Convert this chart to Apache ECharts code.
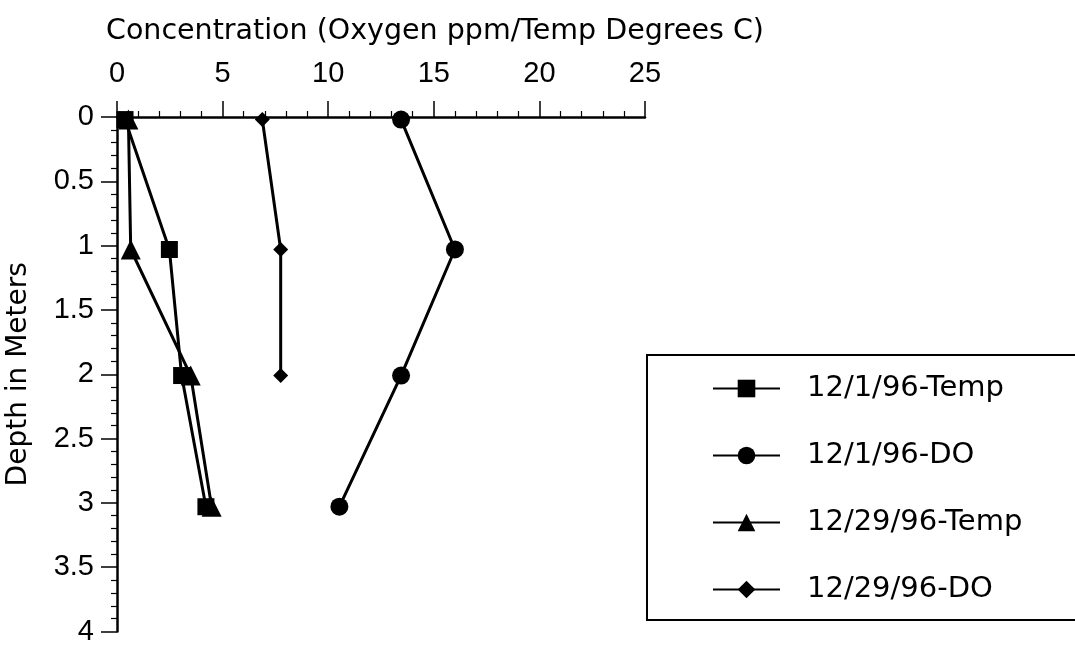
<!DOCTYPE html>
<html>
<head>
<meta charset="utf-8">
<script src="https://cdn.jsdelivr.net/npm/echarts@6/dist/echarts.min.js"></script>
<style>html,body{margin:0;padding:0;background:#fff;}#c{width:1075px;height:646px;}</style>
</head>
<body>
<div id="c"></div>
<script>
const seriesNames = ['12/1/96-Temp', '12/1/96-DO', '12/29/96-Temp', '12/29/96-DO'];
const depths = [0.02, 1.03, 2.01, 3.03];
const temp1 = [0.38, 2.48, 3.06, 4.21];
const do1 = [13.45, 16.0, 13.45, 10.53];
const temp29 = [0.54, 0.65, 3.49, 4.48];
const do29 = [6.88, 7.75, 7.75];
const xTicks = [0, 5, 10, 15, 20, 25];
const yTicks = [0, 0.5, 1, 1.5, 2, 2.5, 3, 3.5, 4];

function pairs(xs) { return xs.map((v, i) => [v, depths[i]]); }

const chart = echarts.init(document.getElementById('c'), null, {renderer: 'canvas'});
const mk = (name, vals, symbol, size) => ({
  name: name, type: 'line', data: pairs(vals), symbol: symbol, symbolSize: size,
  lineStyle: {color: '#000', width: 3}, itemStyle: {color: '#000'},
  showAllSymbol: true, animation: false, z: 3
});
chart.setOption({
  animation: false,
  backgroundColor: '#fff',
  title: {
    text: 'Concentration (Oxygen ppm/Temp Degrees C)', left: 101, top: 12,
    textStyle: {fontFamily: 'DejaVu Sans', fontSize: 28.5, fontWeight: 'normal', color: '#000'}
  },
  grid: {left: 117, right: 430, top: 117, bottom: 5, containLabel: false},
  xAxis: {
    type: 'value', position: 'top', min: xTicks[0], max: xTicks[xTicks.length - 1], interval: 5,
    axisLine: {show: true, lineStyle: {color: '#000', width: 2.5}},
    axisTick: {show: true, length: 16, lineStyle: {color: '#000', width: 1.5}},
    minorTick: {show: true, splitNumber: 5, length: 6, lineStyle: {color: '#000', width: 1.2}},
    splitLine: {show: false},
    axisLabel: {margin: 29, fontFamily: 'Liberation Sans', fontSize: 29, color: '#000'}
  },
  yAxis: {
    type: 'value', inverse: true, min: yTicks[0], max: yTicks[yTicks.length - 1], interval: 0.5,
    name: 'Depth in Meters', nameLocation: 'middle', nameGap: 84, nameRotate: 90,
    nameTextStyle: {fontFamily: 'DejaVu Sans', fontSize: 28, color: '#000'},
    axisLine: {show: true, lineStyle: {color: '#000', width: 2.5}},
    axisTick: {show: true, length: 16, lineStyle: {color: '#000', width: 1.5}},
    minorTick: {show: true, splitNumber: 5, length: 6, lineStyle: {color: '#000', width: 1.2}},
    splitLine: {show: false},
    axisLabel: {margin: 23, fontFamily: 'Liberation Sans', fontSize: 29, color: '#000'}
  },
  legend: {
    orient: 'vertical', left: 647, top: 355,
    padding: [19, 300, 16, 65],
    itemWidth: 67, itemHeight: 22, itemGap: 38,
    borderColor: '#000', borderWidth: 2, backgroundColor: '#fff',
    textStyle: {fontFamily: 'DejaVu Sans', fontSize: 29, color: '#000', lineHeight: 28, padding: [0, 0, 0, 22]},
    data: seriesNames
  },
  series: [
    mk(seriesNames[0], temp1, 'rect', 17),
    mk(seriesNames[1], do1, 'circle', 18),
    mk(seriesNames[2], temp29, 'triangle', 20),
    Object.assign(mk(seriesNames[3], do29, 'diamond', 15), {data: do29.map((v, i) => [v, depths[i]])})
  ]
});
</script>
</body>
</html>
